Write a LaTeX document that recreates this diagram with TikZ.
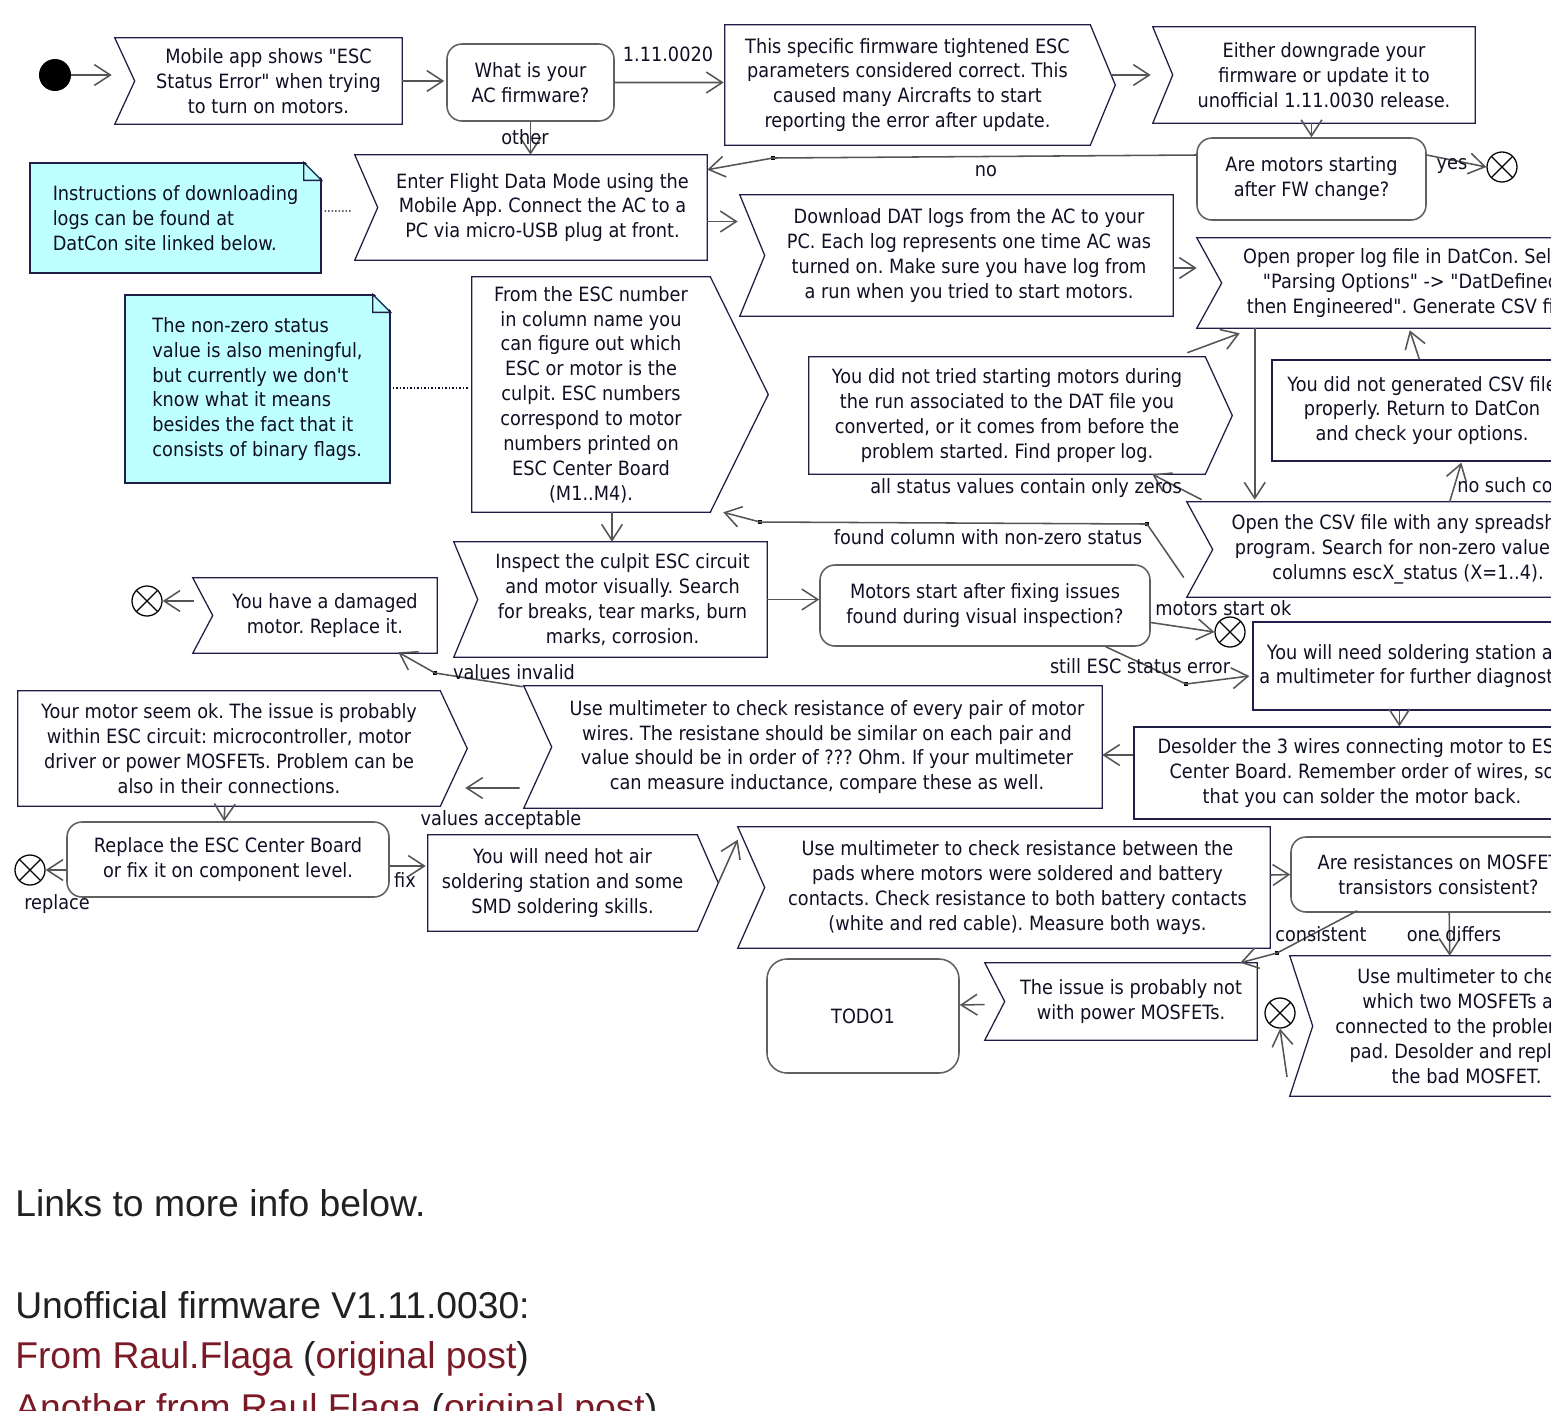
\documentclass[tikz,border=0pt]{standalone}
\usepackage{fontspec}
\usepackage{xcolor}
\usepackage{tikz}
\usetikzlibrary{arrows.meta,calc,positioning}

\newfontfamily\uifont{DejaVu Sans}[FakeStretch=0.9]
\newfontfamily\webfont{Liberation Sans}
\frenchspacing

\definecolor{ink}{RGB}{16,16,36}
\definecolor{navy}{RGB}{30,30,70}
\definecolor{wire}{RGB}{85,85,85}
\definecolor{notefill}{RGB}{190,255,255}
\definecolor{linkred}{RGB}{122,26,38}
\definecolor{webtext}{RGB}{33,33,33}

\tikzset{
  txt/.style={font=\uifont\fontsize{14}{17.7}\selectfont, text=ink, align=center, inner sep=0pt},
  sz/.style 2 args={minimum width=#1*0.025cm, minimum height=#2*0.025cm},
  plainbox/.style={txt, draw=navy, line width=0.9pt},
  decision/.style={txt, draw=gray!75!black, line width=1.1pt, rounded corners=0.375cm},
  note/.style={txt, align=left, draw=navy, line width=0.9pt, fill=notefill},
  outline/.style={draw=navy, line width=0.9pt},
  flow/.style={draw=wire, line width=1.1pt, -{Straight Barb[length=0.4cm,width=0.52cm]}},
  dotlink/.style={draw=ink, line width=0.8pt, dash pattern=on 1pt off 1.5pt},
  startdot/.style={circle, fill=black, minimum size=0.8cm, inner sep=0pt},
  flowend/.style={circle, draw=black, line width=0.9pt, minimum size=0.75cm, inner sep=0pt,
    path picture={\draw[line width=0.9pt] (path picture bounding box.north west) -- (path picture bounding box.south east)
      (path picture bounding box.north east) -- (path picture bounding box.south west);}},
  junction/.style={rectangle, fill=black, minimum size=0.11cm, inner sep=0pt},
  web/.style={font=\webfont\fontsize{26.5}{32}\selectfont, text=webtext, inner sep=0pt, anchor=base west}
}

\begin{document}
\begin{tikzpicture}[x=0.025cm, y=-0.025cm]
        \useasboundingbox (0,0) rectangle (1551,1410);
        \clip (0,0) rectangle (1551,1410);

        % Firmware check
        \node[startdot] (start) at (55,75) {};
        \node[txt, sz={267}{86}] (n_app) at (268.5,81) {Mobile app shows "ESC\\Status Error" when trying\\to turn on motors.};
        \node[decision, sz={167}{77}] (n_fw) at (530.5,82.5) {What is your\\AC firmware?};
        \node[txt, sz={365}{120}] (n_tight) at (907.5,85) {This specific firmware tightened ESC\\parameters considered correct. This\\caused many Aircrafts to start\\reporting the error after update.};
        \node[txt, sz={302}{96}] (n_down) at (1324,75) {Either downgrade your\\firmware or update it to\\unofficial 1.11.0030 release.};
        \node[decision, sz={229}{82}] (n_start) at (1311.5,179) {Are motors starting\\after FW change?};
        \node[flowend] (end1) at (1502,167) {};

        % Logs
        \node[note, sz={291}{110}] (n_note1) at (175.5,218) {Instructions of downloading\\logs can be found at\\DatCon site linked below.};
        \node[txt, sz={329}{105}] (n_enter) at (542.5,207.5) {Enter Flight Data Mode using the\\Mobile App. Connect the AC to a\\PC via micro-USB plug at front.};
        \node[txt, sz={408}{121}] (n_dl) at (969,255.5) {Download DAT logs from the AC to your\\PC. Each log represents one time AC was\\turned on. Make sure you have log from\\a run when you tried to start motors.};
        \node[txt, sz={378}{90}] (n_open) at (1411,283) {Open proper log file in DatCon. Select\\"Parsing Options" -> "DatDefined\\then Engineered". Generate CSV file.};

        % Status columns
        \node[note, sz={265}{188}] (n_note2) at (257.5,389) {The non-zero status\\value is also meningful,\\but currently we don't\\know what it means\\besides the fact that it\\consists of binary flags.};
        \node[txt, sz={238}{235}] (n_from) at (591,394.5) {From the ESC number\\in column name you\\can figure out which\\ESC or motor is the\\culpit. ESC numbers\\correspond to motor\\numbers printed on\\ESC Center Board\\(M1..M4).};
        \node[txt, sz={396}{117}] (n_tried) at (1007,415.5) {You did not tried starting motors during\\the run associated to the DAT file you\\converted, or it comes from before the\\problem started. Find proper log.};
        \node[plainbox, sz={300}{101}] (n_gen) at (1422,410.5) {You did not generated CSV file\\properly. Return to DatCon\\and check your options.};
        \node[txt, sz={390}{95}] (n_csv) at (1408,549.5) {Open the CSV file with any spreadsheet\\program. Search for non-zero values in\\columns escX\_status (X=1..4).};

        % Visual inspection
        \node[txt, sz={289}{115}] (n_inspect) at (622.5,599.5) {Inspect the culpit ESC circuit\\and motor visually. Search\\for breaks, tear marks, burn\\marks, corrosion.};
        \node[txt, sz={224}{75}] (n_damaged) at (325,615.5) {You have a damaged\\motor. Replace it.};
        \node[flowend] (end2) at (147,601) {};
        \node[decision, sz={330}{81}] (n_vis) at (985,605.5) {Motors start after fixing issues\\found during visual inspection?};
        \node[flowend] (end3) at (1230,632) {};
        \node[plainbox, sz={336}{88}] (n_solder) at (1421,666) {You will need soldering station and\\a multimeter for further diagnostics.};

        % Motor wires
        \node[txt, sz={550}{122}] (n_multi) at (827,747) {Use multimeter to check resistance of every pair of motor\\wires. The resistane should be similar on each pair and\\value should be in order of ??? Ohm. If your multimeter\\can measure inductance, compare these as well.};
        \node[txt, sz={422}{115}] (n_ok) at (229,748.5) {Your motor seem ok. The issue is probably\\within ESC circuit: microcontroller, motor\\driver or power MOSFETs. Problem can be\\also in their connections.};
        \node[plainbox, sz={456}{92}] (n_desolder) at (1362,773) {Desolder the 3 wires connecting motor to ESC\\Center Board. Remember order of wires, so\\that you can solder the motor back.};

        % MOSFETs
        \node[decision, sz={322}{75}] (n_replace) at (228,859.5) {Replace the ESC Center Board\\or fix it on component level.};
        \node[flowend] (end4) at (30,870) {};
        \node[txt, sz={269}{96}] (n_hot) at (562.5,883) {You will need hot air\\soldering station and some\\SMD soldering skills.};
        \node[txt, sz={505}{121}] (n_pads) at (1017.5,887.5) {Use multimeter to check resistance between the\\pads where motors were soldered and battery\\contacts. Check resistance to both battery contacts\\(white and red cable). Measure both ways.};
        \node[decision, sz={295}{75}] (n_mosq) at (1438.5,874.5) {Are resistances on MOSFET\\transistors consistent?};
        \node[decision, sz={192}{114}, rounded corners=0.5cm] (n_todo) at (863,1016) {TODO1};
        \node[txt, sz={252}{77}] (n_notmos) at (1131,1001.5) {The issue is probably not\\with power MOSFETs.};
        \node[flowend] (end5) at (1280,1013) {};
        \node[txt, sz={307}{140}] (n_check) at (1466.5,1026) {Use multimeter to check\\which two MOSFETs are\\connected to the problematic\\pad. Desolder and replace\\the bad MOSFET.};
        \coordinate (c_end5) at (1287,1077);

        % Box outlines
        \foreach \n/\d in {n_app/20, n_down/20, n_enter/23, n_dl/25, n_open/25, n_csv/26, n_inspect/24, n_damaged/20, n_multi/28, n_pads/27, n_notmos/20, n_check/23} {
            \draw[outline] ($(\n.north west)+(-\d,0)$) -- (\n.north east) -- (\n.south east) -- ($(\n.south west)+(-\d,0)$) -- (\n.west) -- cycle;
        }
        \foreach \n/\d in {n_tight/25, n_from/58, n_tried/27, n_ok/27, n_hot/21} {
            \draw[outline] (\n.north west) -- (\n.north east) -- ($(\n.east)+(\d,0)$) -- (\n.south east) -- (\n.south west) -- cycle;
        }
        \foreach \n in {n_note1, n_note2} {
            \fill[white] ($(\n.north east)+(-18,-2)$) -- ($(\n.north east)+(2,-2)$) -- ($(\n.north east)+(2,18)$) -- cycle;
            \draw[outline] ($(\n.north east)+(-18,0)$) -- ($(\n.north east)+(0,18)$) -- ($(\n.north east)+(-18,18)$) -- cycle;
        }

        % Junction points
        \node[junction] (j_no) at (773,158) {};
        \node[junction] (j_f1) at (1147,524) {};
        \node[junction] (j_f2) at (760,522) {};
        \node[junction] (j_still) at (1186,684) {};
        \node[junction] (j_inv) at (435,673) {};
        \node[junction] (j_con) at (1277,953) {};

        % Connectors
        \draw[flow] (start.east) -- ($(n_app.west)+(-23,-6)$);
        \draw[flow] (n_app.east) -- ($(n_fw.west)+(-2,-1.5)$);
        \draw[flow] (n_fw.east) -- ($(n_tight.west)+(-1,-2.5)$);
        \draw[flow] (n_fw.south) -- (n_fw.south |- n_enter.north);
        \draw[flow] ($(n_tight.east)+(21,-10)$) -- ($(n_down.west)+(-22,0)$);
        \draw[flow] (n_start.north |- n_down.south) -- (n_start.north);
        \draw[flow] ($(n_start.west)+(0,-24)$) -- (j_no.center) -- ($(n_enter.north east)+(0,15)$);
        \draw[flow] ($(n_start.east)+(0,-24)$) -- (end1.west);
        \draw[dotlink] ($(n_note1.east)+(3,-7)$) -- ($(n_enter.west)+(-26,3.5)$);
        \draw[flow] ($(n_enter.east)+(0,14)$) -- ($(n_dl.west)+(-27,-34)$);
        \draw[flow] ($(n_dl.east)+(0,12.5)$) -- ($(n_open.west)+(-25,-15)$);
        \draw[flow] ($(n_open.south west)+(33,0)$) -- ($(n_csv.north west)+(42,-2)$);
        \draw[flow] ($(n_tried.north east)+(-18,-4)$) -- ($(n_open.south west)+(18,5)$);
        \draw[flow] ($(n_gen.north west)+(148,0)$) -- ($(n_open.south west)+(188,2)$);
        \draw[flow] ($(n_csv.north west)+(237,0)$) -- ($(n_gen.south west)+(190,1)$);
        \draw[flow] ($(n_csv.north west)+(-11,-2)$) -- ($(n_tried.south east)+(-53,0)$);
        \draw[flow] ($(n_csv.west)+(-29,28)$) -- (j_f1.center) -- (j_f2.center) -- ($(n_from.south east)+(13,0)$);
        \draw[dotlink] ($(n_note2.east)+(2,-1)$) -- ($(n_from.west)+(-2,-6.5)$);
        \draw[flow] ($(n_from.south)+(21,0)$) -- ($(n_inspect.north)+(-10.5,0)$);
        \draw[flow] (n_inspect.east) -- (n_inspect.east -| n_vis.west);
        \draw[flow] ($(n_vis.east)+(0,17)$) -- (end3.west);
        \draw[flow] ($(n_vis.south east)+(-45,0)$) -- (j_still.center) -- ($(n_solder.west)+(-3,10)$);
        \draw[flow] ($(n_solder.south west)+(147,0)$) -- ($(n_desolder.north west)+(266,0)$);
        \draw[flow] ($(n_desolder.west)+(0,-18)$) -- ($(n_multi.east)+(0,8)$);
        \draw[flow] ($(n_multi.west)+(-32,41)$) -- ($(n_ok.east)+(25,39.5)$);
        \draw[flow] ($(n_multi.north west)+(-29,1)$) -- (j_inv.center) -- ($(n_damaged.south east)+(-39,-1)$);
        \draw[flow] ($(n_damaged.west)+(-19,-14.5)$) -- (end2.east);
        \draw[flow] ($(n_ok.south west)+(207,0)$) -- ($(n_replace.north west)+(158,0)$);
        \draw[flow] ($(n_replace.west)+(0,10.5)$) -- (end4.east);
        \draw[flow] ($(n_replace.east)+(0,6.5)$) -- ($(n_hot.west)+(-2,-17)$);
        \draw[flow] ($(n_hot.east)+(21,0)$) -- ($(n_pads.north west)+(-27,13)$);
        \draw[flow] ($(n_pads.east)+(0,-12.5)$) -- (n_mosq.west);
        \draw[flow] ($(n_mosq.south west)+(67,-2)$) -- (j_con.center) -- ($(n_notmos.north east)+(-17,0)$);
        \draw[flow] ($(n_mosq.south west)+(159,0)$) -- ($(n_check.north west)+(137,0)$);
        \draw[flow] ($(n_notmos.west)+(-20,3)$) -- ($(n_todo.east)+(0,-11)$);
        \draw[flow] (c_end5) -- (end5.south);

        % Connector labels
        \node[txt] (l_fw) at (668,54) {1.11.0020};
        \node[txt] (l_other) at (525,137) {other};
        \node[txt] (l_no) at (986,171) {no};
        \node[txt] (l_yes) at (1452,166) {yes};
        \node[txt] (l_zeros) at (1026,488) {all status values contain only zeros};
        \node[txt] (l_found) at (988,537) {found column with non-zero status};
        \node[txt, anchor=west] (l_nocol) at (1457,485) {no such column};
        \node[txt, anchor=west] (l_startok) at (1155,608) {motors start ok};
        \node[txt] (l_still) at (1140,666) {still ESC status error};
        \node[txt] (l_invalid) at (514,672) {values invalid};
        \node[txt] (l_accept) at (501,820) {values acceptable};
        \node[txt] (l_replace) at (57,904) {replace};
        \node[txt] (l_fix) at (405,880) {fix};
        \node[txt] (l_cons) at (1321,934) {consistent};
        \node[txt] (l_differs) at (1454,934) {one differs};

        % Page text below
        \node[web] (t_links) at (15,1216) {Links to more info below.};
        \node[web] (t_fw) at (15,1318) {Unofficial firmware V1.11.0030:};
        \node[web] (t_raul) at (15,1368) {\textcolor{linkred}{From Raul.Flaga} (\textcolor{linkred}{original post})};
        \node[web] (t_another) at (15,1420) {\textcolor{linkred}{Another from Raul.Flaga} (\textcolor{linkred}{original post})};
\end{tikzpicture}
\end{document}
